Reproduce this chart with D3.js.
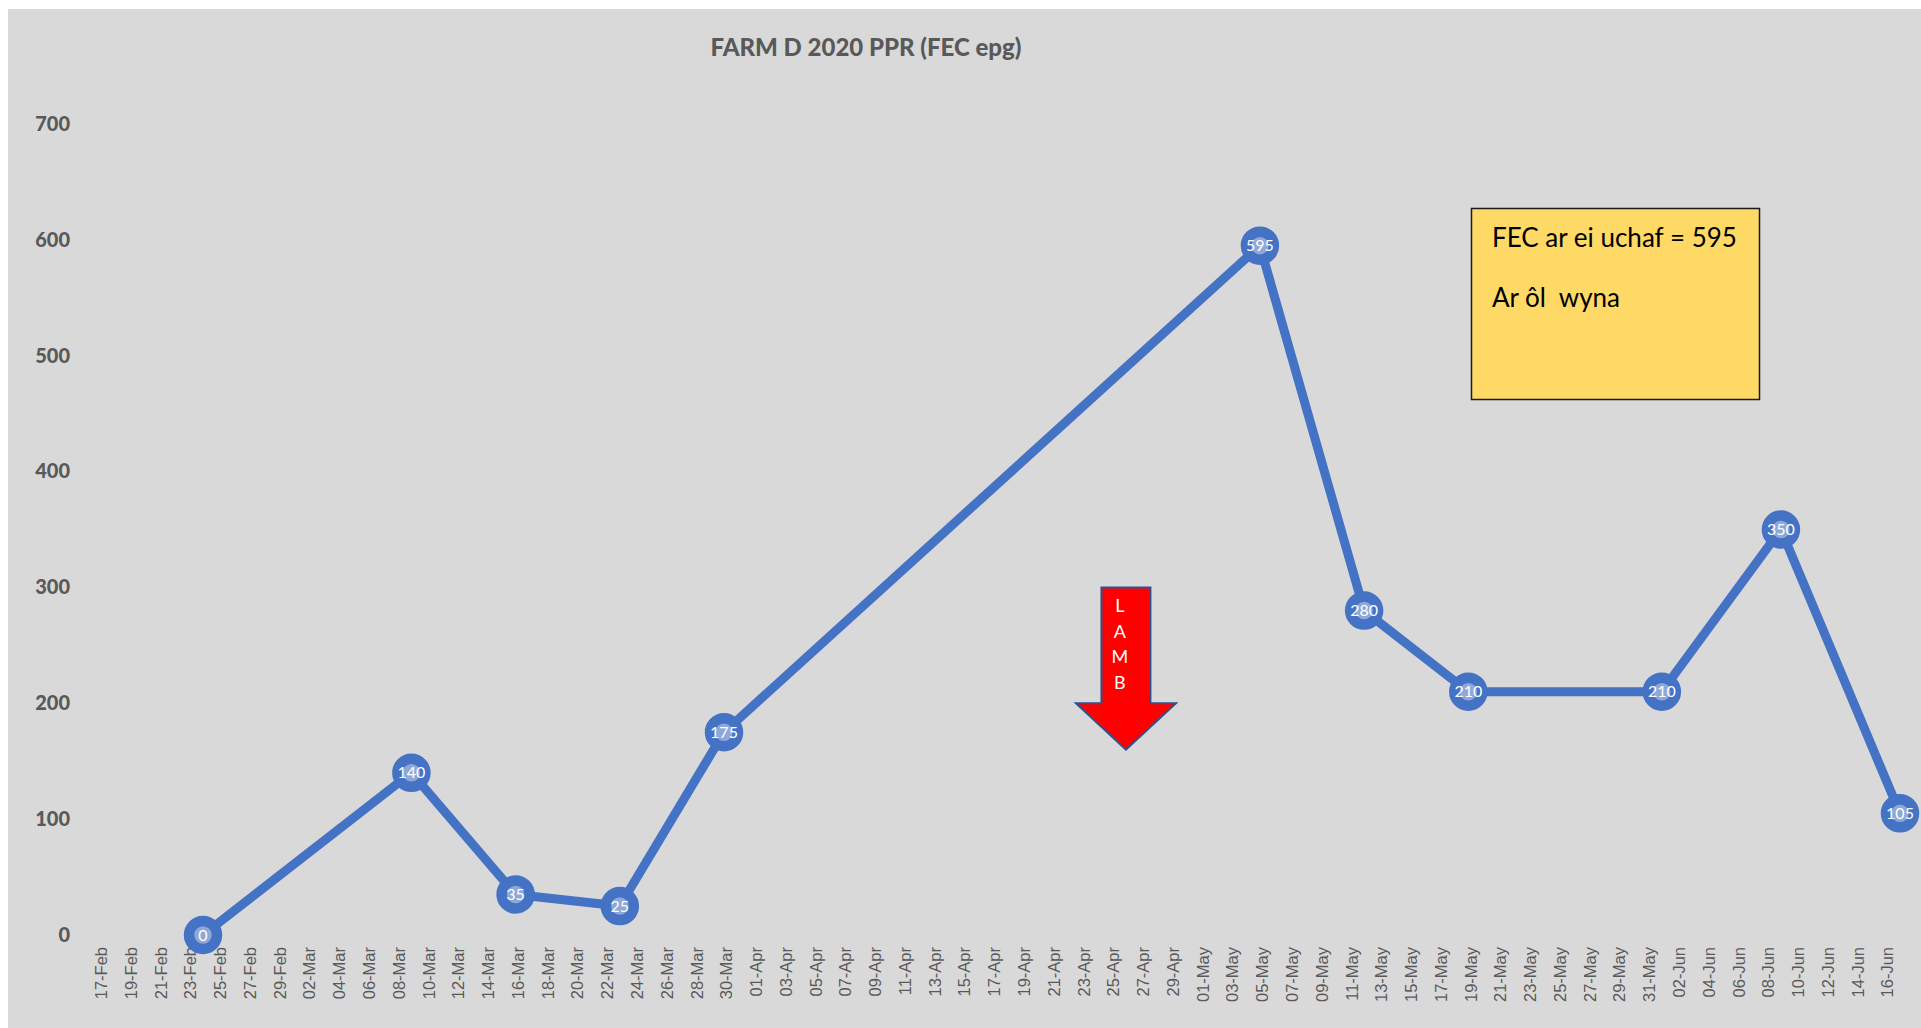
<!DOCTYPE html>
<html>
<head>
<meta charset="utf-8">
<script src="https://cdn.jsdelivr.net/npm/d3@7"></script>
<style>
  html, body { margin: 0; padding: 0; background: #ffffff; }
  svg { display: block; }
</style>
</head>
<body>
<div id="chart"></div>
<script>
(function()
{
    // data
    var sampleDates = ["24-Feb", "09-Mar", "16-Mar", "23-Mar", "30-Mar", "05-May",
                       "12-May", "19-May", "01-Jun", "09-Jun", "17-Jun"];
    var fecValues = [0, 140, 35, 25, 175, 595, 280, 210, 210, 350, 105];

    var tickLabels = [
        "17-Feb", "19-Feb", "21-Feb", "23-Feb", "25-Feb", "27-Feb", "29-Feb",
        "02-Mar", "04-Mar", "06-Mar", "08-Mar", "10-Mar", "12-Mar", "14-Mar", "16-Mar",
        "18-Mar", "20-Mar", "22-Mar", "24-Mar", "26-Mar", "28-Mar", "30-Mar",
        "01-Apr", "03-Apr", "05-Apr", "07-Apr", "09-Apr", "11-Apr", "13-Apr", "15-Apr",
        "17-Apr", "19-Apr", "21-Apr", "23-Apr", "25-Apr", "27-Apr", "29-Apr",
        "01-May", "03-May", "05-May", "07-May", "09-May", "11-May", "13-May", "15-May",
        "17-May", "19-May", "21-May", "23-May", "25-May", "27-May", "29-May", "31-May",
        "02-Jun", "04-Jun", "06-Jun", "08-Jun", "10-Jun", "12-Jun", "14-Jun", "16-Jun"
    ];
    var yTicks = [0, 100, 200, 300, 400, 500, 600, 700];

    var titleText = "FARM D 2020 PPR (FEC epg)";
    var noteLines = ["FEC ar ei uchaf = 595", "Ar \u00f4l  wyna"];
    var arrowLetters = ["L", "A", "M", "B"];
    var arrowDate = "26-Apr";

    var W = 1921, H = 1028;
    var parse = function(s) { return d3.utcParse("%d-%b-%Y")(s + "-2020"); };

    var data = sampleDates.map(function(d, i) {
        return { date: parse(d), value: fecValues[i], label: String(fecValues[i]) };
    });
    var tickDates = tickLabels.map(parse);

    //Scales
    var x = d3.scaleUtc()
        .domain([tickDates[0], tickDates[tickDates.length - 1]])
        .range([98.8, 98.8 + 120 * 14.886]);
    var y = d3.scaleLinear().domain([0, 700]).range([935, 124]);

    var svg = d3.select("#chart").append("svg")
        .attr("width", W)
        .attr("height", H)
        .style("font-family", "'Liberation Sans', Arial, sans-serif");

    // chart area
    svg.append("rect")
        .attr("x", 8).attr("y", 9)
        .attr("width", W - 8).attr("height", H - 9)
        .attr("fill", "#d9d9d9");

    // title
    svg.append("text")
        .attr("x", 866).attr("y", 56)
        .attr("text-anchor", "middle")
        .attr("fill", "#595959")
        .style("font-family", "Lato, 'Open Sans', sans-serif")
        .style("font-weight", "900")
        .style("font-size", "24px")
        .text(titleText);

    // y axis
    var yAxis = svg.append("g")
        .attr("transform", "translate(70,0)")
        .call(d3.axisLeft(y).tickValues(yTicks).tickSize(0).tickPadding(0));
    yAxis.select(".domain").remove();
    yAxis.selectAll("text")
        .attr("fill", "#595959")
        .style("font-family", "Lato, 'Open Sans', sans-serif")
        .style("font-weight", "900")
        .style("font-size", "20px");

    // x axis
    var xAxis = svg.append("g")
        .attr("transform", "translate(2,947)")
        .call(d3.axisBottom(x).tickValues(tickDates)
            .tickFormat(d3.utcFormat("%d-%b")).tickSize(0));
    xAxis.select(".domain").remove();
    xAxis.selectAll("text")
        .attr("transform", "rotate(-90)")
        .attr("text-anchor", "end")
        .attr("x", 0).attr("y", 0)
        .attr("dy", "0.35em")
        .attr("fill", "#595959")
        .style("font-size", "16.5px");

    // line
    var line = d3.line()
        .x(function(d) { return x(d.date); })
        .y(function(d) { return y(d.value); });

    svg.append("path")
        .datum(data)
        .attr("d", line)
        .attr("fill", "none")
        .attr("stroke", "#4472c4")
        .attr("stroke-width", 9)
        .attr("stroke-linejoin", "round");

    // markers
    var pts = svg.selectAll(".pt")
        .data(data)
        .enter().append("g")
        .attr("class", "pt")
        .attr("transform", function(d) { return "translate(" + x(d.date) + "," + y(d.value) + ")"; });

    pts.append("circle")
        .attr("r", 14)
        .attr("fill", "#8fa8d8")
        .attr("stroke", "#4472c4")
        .attr("stroke-width", 10.5);

    pts.append("text")
        .attr("text-anchor", "middle")
        .attr("dy", "0.35em")
        .attr("fill", "#ffffff")
        .style("font-family", "Lato, 'Open Sans', sans-serif")
        .style("font-size", "16px")
        .text(function(d) { return d.label; });

    // LAMB arrow
    var ax = x(parse(arrowDate));
    var shaftHalf = 24.5, headHalf = 50;
    var arrowPts = [
        [ax - shaftHalf, y(300)], [ax + shaftHalf, y(300)],
        [ax + shaftHalf, y(200)], [ax + headHalf, y(200)],
        [ax, y(160)],
        [ax - headHalf, y(200)], [ax - shaftHalf, y(200)]
    ];
    svg.append("polygon")
        .attr("points", arrowPts.map(function(p) { return p.join(","); }).join(" "))
        .attr("fill", "#ff0000")
        .attr("stroke", "#2f528f")
        .attr("stroke-width", 2);

    svg.selectAll(".lamb")
        .data(arrowLetters)
        .enter().append("text")
        .attr("class", "lamb")
        .attr("x", ax - 6)
        .attr("y", function(d, i) { return 612 + i * 25.5; })
        .attr("text-anchor", "middle")
        .attr("fill", "#ffffff")
        .style("font-family", "Lato, 'Open Sans', sans-serif")
        .style("font-size", "18px")
        .text(function(d) { return d; });

    // note box
    svg.append("rect")
        .attr("x", 1471.5).attr("y", 208.5)
        .attr("width", 288).attr("height", 191)
        .attr("fill", "#ffd966")
        .attr("stroke", "#1a1a1a")
        .attr("stroke-width", 1.5);

    svg.selectAll(".note")
        .data(noteLines)
        .enter().append("text")
        .attr("class", "note")
        .attr("x", 1492)
        .attr("y", function(d, i) { return 247 + i * 60; })
        .attr("fill", "#000000")
        .attr("xml:space", "preserve")
        .style("white-space", "pre")
        .style("font-family", "Lato, 'Open Sans', sans-serif")
        .style("font-size", "26px")
        .text(function(d) { return d; });

})()
</script>
</body>
</html>
